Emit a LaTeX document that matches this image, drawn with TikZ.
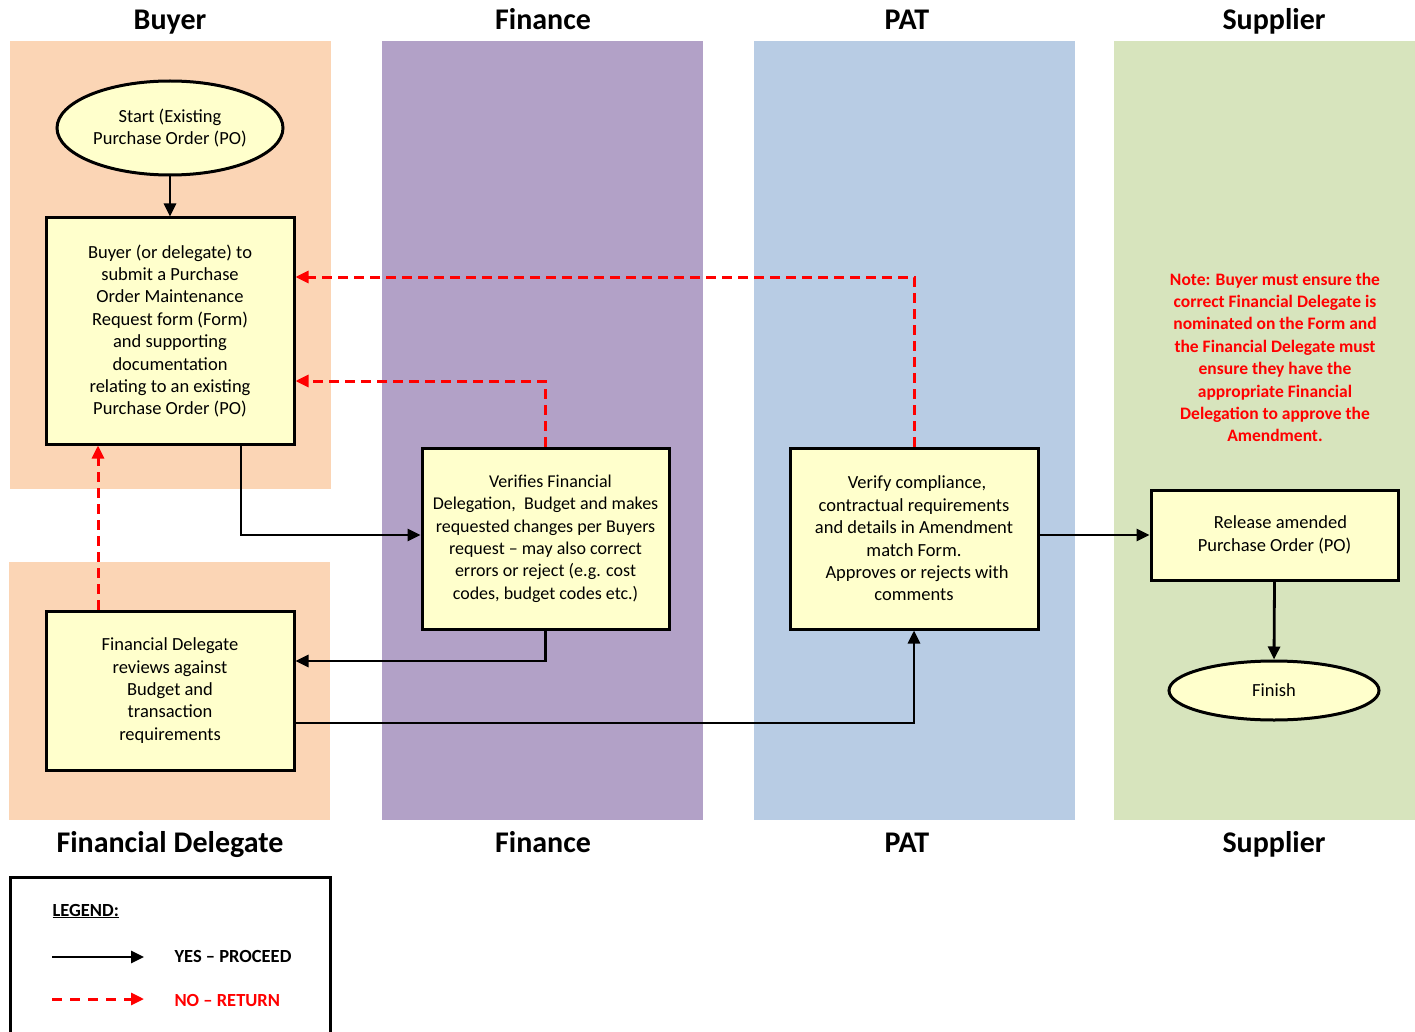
\documentclass[tikz,border=0pt]{standalone}
\usepackage{fontspec}
\setmainfont{Carlito}
\usetikzlibrary{shapes.geometric,arrows.meta}
\definecolor{peach}{HTML}{FBD5B5}
\definecolor{lilac}{HTML}{B2A1C7}
\definecolor{paleblue}{HTML}{B8CCE4}
\definecolor{sage}{HTML}{D7E4BD}
\definecolor{boxfill}{HTML}{FFFFCC}
\definecolor{redline}{HTML}{FF0000}
\tikzset{
  title/.style={font=\fontsize{30}{34}\selectfont\bfseries, anchor=base},
  procbox/.style={draw=black, line width=3pt, fill=boxfill, rectangle, inner sep=0pt, align=center,
    font=\fontsize{18.5}{22.4}\selectfont},
  term/.style={draw=black, line width=3pt, fill=boxfill, ellipse, inner sep=0pt, align=center,
    font=\fontsize{18.5}{22.4}\selectfont},
  yes/.style={draw=black, line width=2.8pt, -{Triangle[length=13pt,width=12pt]}},
  no/.style={draw=redline, line width=3pt, dash pattern=on 10pt off 6pt, -{Triangle[length=13pt,width=12pt]}},
  legtext/.style={font=\fontsize{18.5}{22}\selectfont\bfseries, anchor=base west},
}
\begin{document}
\begin{tikzpicture}[x=1pt,y=-1pt]
\useasboundingbox (0,0) rectangle (1415,1032);
\fill[white] (0,0) rectangle (1415,1032);
% lanes
\fill[peach] (10,41) rectangle (331,489);
\fill[peach] (9,562) rectangle (330,820);
\fill[lilac] (382,41) rectangle (703,820);
\fill[paleblue] (754,41) rectangle (1075,820);
\fill[sage] (1114,41) rectangle (1415,820);
% titles
\node[title] (tbuyer) at (170,30) {Buyer};
\node[title] (tfin) at (543,30) {Finance};
\node[title] (tpat) at (907,30) {PAT};
\node[title] (tsup) at (1274,30) {Supplier};
\node[title] (bfd) at (170,852) {Financial Delegate};
\node[title] (bfin) at (543,852) {Finance};
\node[title] (bpat) at (907,852) {PAT};
\node[title] (bsup) at (1274,852) {Supplier};
% nodes
\node[term, minimum width=226pt, minimum height=94pt] (start) at (170,128) {Start (Existing\\Purchase Order (PO)};
\node[procbox, minimum width=248pt, minimum height=226pt] (buyer) at (170,331)
  {Buyer (or delegate) to\\submit a Purchase\\Order Maintenance\\Request form (Form)\\and supporting\\documentation\\relating to an existing\\Purchase Order (PO)};
\node[procbox, minimum width=247pt, minimum height=181pt, font=\fontsize{18}{22.4}\selectfont] (fin) at (545.5,538.5)
  {\hspace*{10pt}Verifies Financial\\Delegation,\ \ Budget and makes\\requested changes per Buyers\\request -- may also correct\\errors or reject (e.g. cost\\codes, budget codes etc.)};
\node[procbox, minimum width=248pt, minimum height=159pt] (fd) at (170,690.5)
  {Financial Delegate\\reviews against\\Budget and\\transaction\\requirements};
\node[procbox, minimum width=248pt, minimum height=181pt] (pat) at (914,538.5)
  {\hspace*{6pt}Verify compliance,\\contractual requirements\\and details in Amendment\\match Form.\\\hspace*{6pt}Approves or rejects with\\comments};
\node[procbox, minimum width=247pt, minimum height=90pt] (rel) at (1274.5,535)
  {\hspace*{12pt}Release amended\\Purchase Order (PO)};
\node[term, minimum width=210pt, minimum height=59pt] (finish) at (1274,690.5) {Finish};
\node[align=center, text=redline, font=\fontsize{17.5}{22.4}\selectfont\bfseries] (note) at (1275,357.5)
  {Note: Buyer must ensure the\\correct Financial Delegate is\\nominated on the Form and\\the Financial Delegate must\\ensure they have the\\appropriate Financial\\Delegation to approve the\\Amendment.};
% yes connectors
\draw[yes] (start) -- (buyer);
\draw[yes] ([xshift=71pt]buyer.south) |- (fin.west |- 0,535);
\draw[yes] (fin.south) |- ([yshift=29.5pt]fd.east);
\draw[yes] ([yshift=-32.5pt]fd.east) -| (pat.south);
\draw[yes] (pat.east |- rel.west) -- (rel.west);
\draw[yes] (rel.south) -- (finish.north);
% no connectors
\draw[no] (pat.north) |- ([yshift=54pt]buyer.east);
\draw[no] (fin.north) |- ([yshift=-50pt]buyer.east);
\draw[no] ([xshift=-72pt]fd.north) -- ([xshift=-72pt]buyer.south);
% legend
\draw[line width=3pt] (10,1040) -- (10,877) -- (330,877) -- (330,1040);
\node[legtext] (leg) at (49,916) {\underline{LEGEND:}};
\coordinate (ya) at (52,957);
\coordinate (yb) at (144,957);
\coordinate (na) at (52,999);
\coordinate (nb) at (144,999);
\draw[yes] (ya) -- (yb);
\draw[no, dash pattern=on 10pt off 8pt] (na) -- (nb);
\node[legtext] (lyes) at (171,962) {YES -- PROCEED};
\node[legtext, text=redline] (lno) at (171,1006) {NO -- RETURN};
\end{tikzpicture}
\end{document}
